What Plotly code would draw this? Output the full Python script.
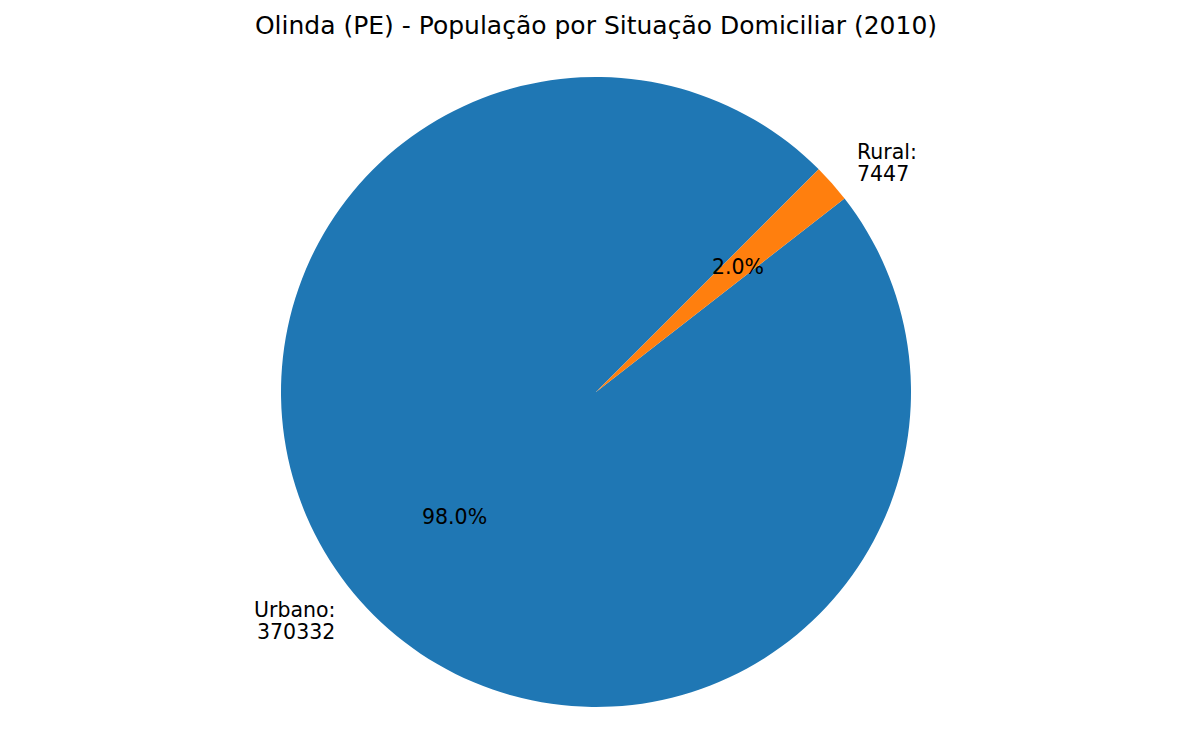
import math
import plotly.graph_objects as go

categories = ["Urbano", "Rural"]
values = [370332, 7447]
colors = ["#1f77b4", "#ff7f0e"]
title = "Olinda (PE) - População por Situação Domiciliar (2010)"

W, H = 1192, 754
cx_px, cy_px, r_px = 596, 392, 315
start_angle = 45  # degrees, math convention, counterclockwise (first slice start)
line_gap = 22     # px between the two lines of an outer label

total = sum(values)
first_span = 360 * values[0] / total
# plotly (counterclockwise): first slice ends at compass angle `rotation`
rotation = (90 - start_angle - first_span) % 360

dom_x = [(cx_px - r_px) / W, (cx_px + r_px) / W]
dom_y = [(H - cy_px - r_px) / H, (H - cy_px + r_px) / H]

fig = go.Figure(go.Pie(
    labels=categories, values=values, sort=False,
    direction="counterclockwise", rotation=rotation,
    marker=dict(colors=colors, line=dict(width=0)),
    textinfo="none", hoverinfo="label+value+percent",
    domain=dict(x=dom_x, y=dom_y), showlegend=False,
))

annotations = []
ang = start_angle
font = dict(family="DejaVu Sans", size=20.5, color="black")
for cat, v in zip(categories, values):
    span = 360 * v / total
    mid = math.radians(ang + span / 2)
    ang += span
    px = (cx_px + 0.6 * r_px * math.cos(mid)) / W
    py = (H - cy_px + 0.6 * r_px * math.sin(mid)) / H
    annotations.append(dict(x=px, y=py, xref="paper", yref="paper",
                            text=f"{100 * v / total:.1f}%", showarrow=False,
                            xanchor="center", yanchor="middle", font=font,
                            borderpad=0))
    lx = (cx_px + 1.1 * r_px * math.cos(mid)) / W
    ly = (H - cy_px + 1.1 * r_px * math.sin(mid)) / H
    right = math.cos(mid) < 0
    for line, shift in ((f"{cat}:", line_gap / 2), (f"{v}", -line_gap / 2)):
        annotations.append(dict(x=lx, y=ly, xref="paper", yref="paper",
                                text=line, showarrow=False,
                                xanchor="right" if right else "left",
                                yanchor="middle", yshift=shift, font=font,
                                borderpad=0))

fig.update_layout(
    width=W, height=H,
    margin=dict(l=0, r=0, t=0, b=0),
    paper_bgcolor="white", plot_bgcolor="white",
    title=dict(text=title, x=0.5, xanchor="center", y=1 - 25 / H, yanchor="middle",
               font=dict(family="DejaVu Sans", size=25, color="black")),
    annotations=annotations,
)

fig.write_html("out.html")
